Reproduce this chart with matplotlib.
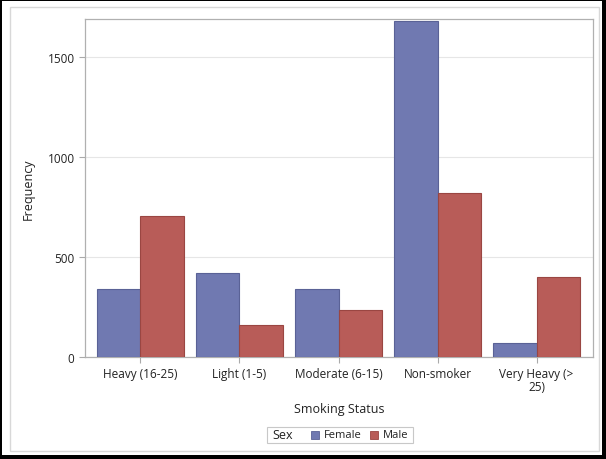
import matplotlib
matplotlib.use("Agg")
import matplotlib.pyplot as plt
from matplotlib.patches import Rectangle
import numpy as np

categories = ["Heavy (16-25)", "Light (1-5)", "Moderate (6-15)", "Non-smoker", "Very Heavy (>\n25)"]
female = [340, 422, 340, 1680, 72]
male = [706, 158, 236, 821, 399]
yticks = [0, 500, 1000, 1500]
groups = ["Female", "Male"]

c_female = "#7079B1"
c_male = "#B85C58"
e_female = "#5A6296"
e_male = "#9A4642"

plt.rcParams['font.family'] = ['Open Sans', 'DejaVu Sans']

W, H = 606, 460
fig = plt.figure(figsize=(6.06, 4.60), dpi=100)
fig.patch.set_facecolor("black")


def px(x0, y0, w, h):
    # pixel box (top-left origin) -> figure fraction
    return (x0 / W, 1 - (y0 + h) / H), w / W, h / H


# white page and faint inner frame
xy, w_, h_ = px(2, 2, 600, 454)
fig.patches.append(Rectangle(xy, w_, h_, transform=fig.transFigure, facecolor="white",
                             edgecolor="none", zorder=-5))
xy, w_, h_ = px(10, 8, 589, 444)
fig.patches.append(Rectangle(xy, w_, h_, transform=fig.transFigure, facecolor="none",
                             edgecolor="#D8D8D8", lw=1, zorder=-4))

ax = fig.add_axes([85 / W, 102 / H, 508 / W, 338 / H])
ax.set_facecolor("white")

x = np.arange(len(categories))
w = 0.435
ax.bar(x - w / 2, female, width=w, color=c_female, edgecolor=e_female, lw=0.8, zorder=3)
ax.bar(x + w / 2, male, width=w, color=c_male, edgecolor=e_male, lw=0.8, zorder=3)

ax.set_xlim(-0.56, 4.57)
ax.set_ylim(0, 1690)
ax.set_yticks(yticks)
ax.set_xticks(x)
ax.set_xticklabels(categories, fontsize=8.5, color="#222222", linespacing=1.0)
ax.tick_params(axis="y", labelsize=8.5, labelcolor="#222222", color="#AAAAAA", length=4)
ax.tick_params(axis="x", color="#AAAAAA", length=4)
ax.grid(axis="y", color="#E6E6E6", lw=0.8, zorder=0)
for s in ax.spines.values():
    s.set_color("#B0B0B0")
    s.set_linewidth(0.9)

ax.set_ylabel("Frequency", fontsize=9, color="#222222", labelpad=9)
ax.set_xlabel("Smoking Status", fontsize=9, color="#222222", labelpad=6)

# legend box: "Sex" then swatches
xy, w_, h_ = px(267, 428, 146, 16)
fig.patches.append(Rectangle(xy, w_, h_, transform=fig.transFigure, facecolor="white",
                             edgecolor="#C8C8C8", lw=0.8))
ly = 1 - 436 / H
fig.text(272 / W, ly, "Sex", fontsize=9, color="#222222", va="center", ha="left")
for gx, lab, fc, ec in [(311, groups[0], c_female, e_female), (370, groups[1], c_male, e_male)]:
    xy, w_, h_ = px(gx, 432, 8, 8)
    fig.patches.append(Rectangle(xy, w_, h_, transform=fig.transFigure, facecolor=fc,
                                 edgecolor=ec, lw=0.6))
    fig.text((gx + 13) / W, ly, lab, fontsize=8, color="#222222", va="center", ha="left")

fig.savefig("out.png", dpi=100, facecolor=fig.get_facecolor())
